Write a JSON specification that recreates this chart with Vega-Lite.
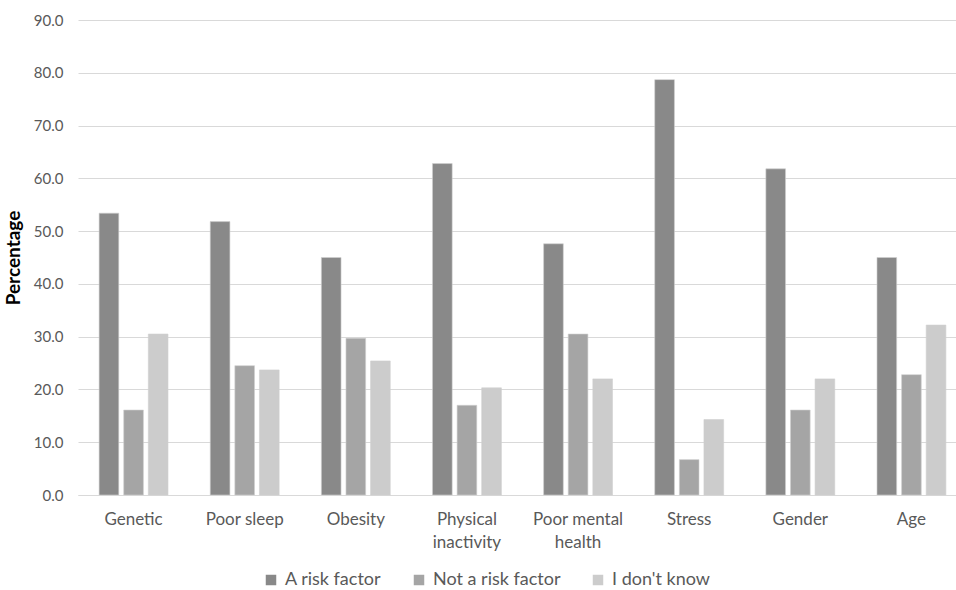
{
  "$schema": "https://vega.github.io/schema/vega-lite/v6.json",
  "autosize": {"type": "none"},
  "padding": {"left": 78, "top": 20, "right": 0, "bottom": 95},
  "width": 889,
  "height": 475,
  "background": "white",
  "config": {
    "view": {"stroke": null},
    "font": "Lato",
    "axis": {"labelFont": "Lato", "titleFont": "Lato"},
    "legend": {"labelFont": "Lato"}
  },
  "data": {
    "values": [
      {"factor": "Genetic", "response": "A risk factor", "pct": 53.4},
      {"factor": "Genetic", "response": "Not a risk factor", "pct": 16.1},
      {"factor": "Genetic", "response": "I don't know", "pct": 30.5},
      {"factor": "Poor sleep", "response": "A risk factor", "pct": 51.8},
      {"factor": "Poor sleep", "response": "Not a risk factor", "pct": 24.5},
      {"factor": "Poor sleep", "response": "I don't know", "pct": 23.7},
      {"factor": "Obesity", "response": "A risk factor", "pct": 45.0},
      {"factor": "Obesity", "response": "Not a risk factor", "pct": 29.7},
      {"factor": "Obesity", "response": "I don't know", "pct": 25.4},
      {"factor": "Physical inactivity", "response": "A risk factor", "pct": 62.8},
      {"factor": "Physical inactivity", "response": "Not a risk factor", "pct": 17.0},
      {"factor": "Physical inactivity", "response": "I don't know", "pct": 20.3},
      {"factor": "Poor mental health", "response": "A risk factor", "pct": 47.6},
      {"factor": "Poor mental health", "response": "Not a risk factor", "pct": 30.5},
      {"factor": "Poor mental health", "response": "I don't know", "pct": 22.0},
      {"factor": "Stress", "response": "A risk factor", "pct": 78.7},
      {"factor": "Stress", "response": "Not a risk factor", "pct": 6.7},
      {"factor": "Stress", "response": "I don't know", "pct": 14.3},
      {"factor": "Gender", "response": "A risk factor", "pct": 61.8},
      {"factor": "Gender", "response": "Not a risk factor", "pct": 16.1},
      {"factor": "Gender", "response": "I don't know", "pct": 22.0},
      {"factor": "Age", "response": "A risk factor", "pct": 45.0},
      {"factor": "Age", "response": "Not a risk factor", "pct": 22.8},
      {"factor": "Age", "response": "I don't know", "pct": 32.2}
    ]
  },
  "mark": {"type": "bar", "stroke": "#d0d0d0", "strokeWidth": 0.6},
  "encoding": {
    "x": {
      "field": "factor",
      "type": "nominal",
      "sort": null,
      "scale": {"paddingInner": 0.38, "paddingOuter": 0.19},
      "axis": {
        "title": null,
        "labelAngle": 0,
        "labelColor": "#595959",
        "labelFontSize": 17,
        "labelPadding": 16,
        "labelLineHeight": 23,
        "ticks": false,
        "domainColor": "#d9d9d9",
        "domainWidth": 1,
        "labelExpr": "datum.label == 'Physical inactivity' ? ['Physical', 'inactivity'] : datum.label == 'Poor mental health' ? ['Poor mental', 'health'] : datum.label"
      }
    },
    "xOffset": {
      "field": "response",
      "type": "nominal",
      "sort": ["A risk factor", "Not a risk factor", "I don't know"],
      "scale": {"paddingInner": 0.2, "paddingOuter": 0}
    },
    "y": {
      "field": "pct",
      "type": "quantitative",
      "scale": {"domain": [0, 90]},
      "axis": {
        "title": "Percentage",
        "titleFontSize": 19,
        "titleFontWeight": "bold",
        "titleColor": "black",
        "titlePadding": 10,
        "values": [0, 10, 20, 30, 40, 50, 60, 70, 80, 90],
        "format": ".1f",
        "labelColor": "#595959",
        "labelFontSize": 15,
        "labelPadding": 15,
        "ticks": false,
        "domain": false,
        "gridColor": "#d9d9d9",
        "gridWidth": 1
      }
    },
    "color": {
      "field": "response",
      "type": "nominal",
      "sort": ["A risk factor", "Not a risk factor", "I don't know"],
      "scale": {
        "domain": ["A risk factor", "Not a risk factor", "I don't know"],
        "range": ["#898989", "#a5a5a5", "#cccccc"]
      },
      "legend": {
        "title": null,
        "orient": "none",
        "direction": "horizontal",
        "legendX": 184,
        "legendY": 551,
        "symbolType": "square",
        "symbolSize": 110,
        "symbolStrokeWidth": 0,
        "labelFontSize": 18,
        "labelColor": "#595959",
        "labelOffset": 5,
        "columnPadding": 28
      }
    }
  }
}
